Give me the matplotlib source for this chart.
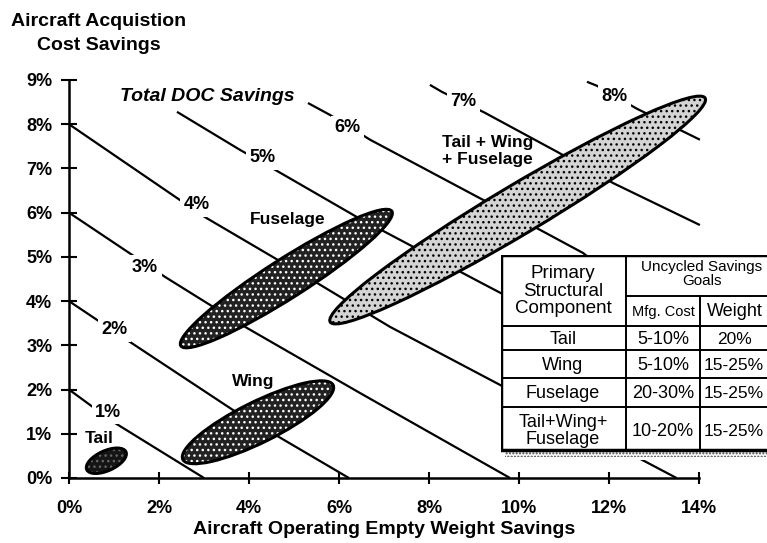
import matplotlib
matplotlib.use("Agg")
import matplotlib.pyplot as plt
from matplotlib.patches import Ellipse, Rectangle

plt.rcParams['font.family'] = ['Liberation Sans', 'DejaVu Sans']
plt.rcParams['hatch.linewidth'] = 1.0

# axes ticks
x_ticks = [0, 2, 4, 6, 8, 10, 12, 14]
x_tick_labels = ['0%', '2%', '4%', '6%', '8%', '10%', '12%', '14%']
y_ticks = [0, 1, 2, 3, 4, 5, 6, 7, 8, 9]
y_tick_labels = ['0%', '1%', '2%', '3%', '4%', '5%', '6%', '7%', '8%', '9%']

# total DOC savings lines (weight savings %, cost savings %)
doc_levels = ['1%', '2%', '3%', '4%', '5%', '6%', '7%', '8%']
doc_x = [
    [0, 0.98, 3.0],
    [0, 1.29, 3.64, 6.22],
    [0, 2.13, 3.96, 6.47, 9.8],
    [0, 3.02, 5.58, 7.13, 12.53, 13.5],
    [2.4, 3.8, 4.51, 6.4, 9.13, 10.5],
    [5.31, 5.8, 6.69, 9.07, 10.47, 11.42, 11.6],
    [8.02, 8.29, 9.24, 10.84, 12.09, 14.02],
    [11.51, 11.73, 12.62, 13.58, 14.02],
]
doc_y = [
    [2, 1.27, 0],
    [4, 3.12, 1.54, 0],
    [6, 4.55, 3.39, 1.92, 0],
    [8, 5.9, 4.37, 3.42, 0.52, 0],
    [8.28, 7.42, 7.01, 5.9, 4.43, 3.7],
    [8.48, 8.21, 7.65, 6.36, 5.61, 5.09, 4.95],
    [8.89, 8.73, 8.26, 7.38, 6.67, 5.72],
    [8.96, 8.87, 8.35, 7.87, 7.65],
]
doc_label_x = [0.87, 1.02, 1.69, 2.84, 4.29, 6.18, 8.76, 12.13]
doc_label_y = [1.49, 3.35, 4.77, 6.18, 7.24, 7.92, 8.51, 8.62]

# structural components (ellipses)
comp_names = ['Tail', 'Wing', 'Fuselage', 'Tail + Wing\n+ Fuselage']
comp_cx = [0.83, 4.20, 4.83, 9.97]
comp_cy = [0.39, 1.26, 4.51, 6.06]
comp_len = [0.96, 3.74, 5.59, 9.75]
comp_wid = [0.45, 0.92, 0.88, 1.10]
comp_ang = [25, 26.8, 33, 31.3]
comp_fill = ['#151515', '#222222', '#222222', '#d4d4d4']
comp_dots = ['#666666', 'white', 'white', 'black']
comp_label_x = [0.67, 4.09, 4.87, 8.29]
comp_label_y = [0.90, 2.19, 5.84, 7.39]

# goals table
head_component = 'Primary\nStructural\nComponent'
head_goals = 'Uncycled Savings\nGoals'
head_cost = 'Mfg. Cost'
head_weight = 'Weight'
table_rows = ['Tail', 'Wing', 'Fuselage', 'Tail+Wing+\nFuselage']
table_cost = ['5-10%', '5-10%', '20-30%', '10-20%']
table_weight = ['20%', '15-25%', '15-25%', '15-25%']

W, H = 767, 543
fig = plt.figure(figsize=(W / 100, H / 100), dpi=100)
ax = fig.add_axes([69 / W, (H - 478) / H, 630 / W, 398 / H])

for i in range(len(doc_levels)):
    ax.plot(doc_x[i], doc_y[i], color='black', lw=1.6, zorder=2,
            solid_capstyle='butt', clip_on=False)
    ax.text(doc_label_x[i], doc_label_y[i], doc_levels[i], fontsize=13,
            fontweight='bold', ha='center', va='center', zorder=3,
            bbox=dict(facecolor='white', edgecolor='none', pad=2.5))

ax.text(3.07, 8.62, 'Total DOC Savings', fontsize=14, fontweight='bold',
        fontstyle='italic', ha='center', va='center', zorder=3,
        bbox=dict(facecolor='white', edgecolor='none', pad=1))

for i in range(len(comp_names)):
    ax.add_patch(Ellipse((comp_cx[i], comp_cy[i]), comp_len[i], comp_wid[i],
                         angle=comp_ang[i], facecolor=comp_fill[i],
                         edgecolor=comp_dots[i], hatch='...', lw=0,
                         zorder=4, clip_on=False))
    ax.add_patch(Ellipse((comp_cx[i], comp_cy[i]), comp_len[i], comp_wid[i],
                         angle=comp_ang[i], fill=False, edgecolor='black',
                         lw=2.2, zorder=5, clip_on=False))
    ha = 'left' if i == 3 else 'center'
    ax.text(comp_label_x[i], comp_label_y[i], comp_names[i], fontsize=12.5,
            fontweight='bold', ha=ha, va='center', linespacing=1.15, zorder=6)

ax.set_xlim(0, 14)
ax.set_ylim(0, 9)
ax.set_xticks(x_ticks)
ax.set_xticklabels(x_tick_labels, fontsize=13, fontweight='bold')
ax.set_yticks(y_ticks)
ax.set_yticklabels(y_tick_labels, fontsize=13, fontweight='bold')
ax.tick_params(axis='x', direction='inout', length=8, width=1.5, pad=12)
ax.tick_params(axis='y', direction='inout', length=12, width=1.5, pad=6)
ax.spines['top'].set_visible(False)
ax.spines['right'].set_visible(False)
ax.spines['left'].set_linewidth(1.8)
ax.spines['bottom'].set_linewidth(1.8)

fig.text(99 / W, 1 - 21 / H, 'Aircraft Acquistion', fontsize=14,
         fontweight='bold', ha='center', va='center')
fig.text(99 / W, 1 - 46 / H, 'Cost Savings', fontsize=14,
         fontweight='bold', ha='center', va='center')
fig.text(384 / W, 1 - 530 / H, 'Aircraft Operating Empty Weight Savings',
         fontsize=14, fontweight='bold', ha='center', va='center')

# table drawn in pixel units
tab = fig.add_axes([501 / W, (H - 460) / H, (780 - 501) / W, 205 / H], zorder=10)
tab.set_xlim(501, 780)
tab.set_ylim(460, 255)
tab.set_xticks([])
tab.set_yticks([])
for s in tab.spines.values():
    s.set_visible(False)
tab.set_facecolor('white')

tab.add_patch(Rectangle((505, 452), 280, 5, facecolor='white',
                        edgecolor='#444444', hatch='.....', lw=0))
tab.add_patch(Rectangle((501, 255), 279, 195, fill=False, edgecolor='black',
                        lw=2.5))
for yy in [326, 350, 378, 407]:
    tab.plot([501, 780], [yy, yy], color='black', lw=1.4)
tab.plot([626, 780], [296, 296], color='black', lw=1.4)
tab.plot([626, 626], [255, 450], color='black', lw=1.4)
tab.plot([700, 700], [296, 450], color='black', lw=1.4)

tab.text(563, 291, head_component, fontsize=13.5, ha='center', va='center',
         linespacing=1.05)
tab.text(702, 274, head_goals, fontsize=11, ha='center', va='center',
         linespacing=1.05)
tab.text(663, 312, head_cost, fontsize=10.5, ha='center', va='center')
tab.text(735, 312, head_weight, fontsize=13, ha='center', va='center')

row_y = [339, 366, 394, 431]
for i in range(len(table_rows)):
    tab.text(563, row_y[i], table_rows[i], fontsize=13, ha='center',
             va='center', linespacing=0.95)
    tab.text(663, row_y[i], table_cost[i], fontsize=13, ha='center', va='center')
    tab.text(734, row_y[i], table_weight[i], fontsize=12.5, ha='center', va='center')

fig.savefig('out.png', dpi=100)
